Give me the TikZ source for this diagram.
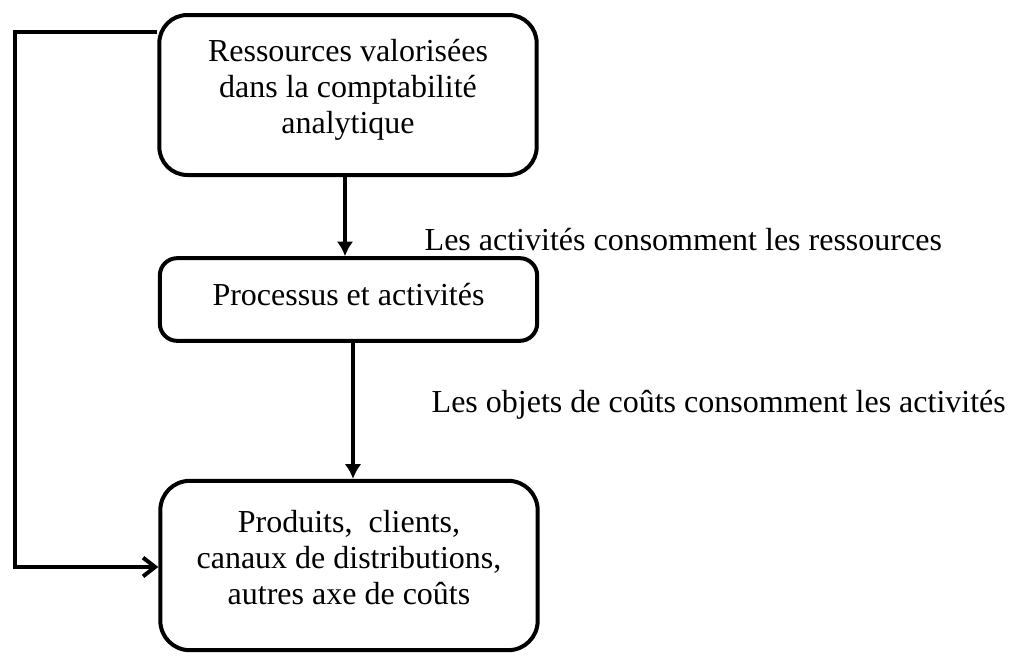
\documentclass[tikz,border=0pt]{standalone}
\usepackage{fontspec}
\setmainfont{Liberation Serif}
\usetikzlibrary{arrows.meta}
\tikzset{
  boite/.style={draw, line width=3pt, minimum width=283pt},
  texte/.style={align=center, font=\fontsize{24}{27}\selectfont},
}
\begin{document}
\begin{tikzpicture}[x=0.75pt, y=-0.75pt, >={Latex[length=11pt,width=12.5pt]}]
    \useasboundingbox (0,0) rectangle (1010,664);
    % les trois blocs
    \node[boite, minimum height=120pt, rounded corners=21pt] (res) at (348,95) {};
    \node[texte] (res-t) at (348,90) {Ressources valoris\'ees\\dans la comptabilit\'e\\analytique};
    \node[boite, minimum height=62pt, rounded corners=13pt] (proc) at (348.5,299.5) {};
    \node[texte] (proc-t) at (348.5,295) {Processus et activit\'es};
    \node[boite, minimum height=127pt, rounded corners=22pt] (prod) at (349,565.5) {};
    \node[texte] (prod-t) at (349,558) {Produits,\ \ clients,\\canaux de distributions,\\autres axe de co\^uts};

    % fleches
    \draw[->, line width=3pt] (res.south -| 345,0) -- (proc.north -| 345,0);
    \draw[->, line width=3pt] (proc.south -| 353,0) -- (prod.north -| 353,0);
    \node[texte, anchor=base west] (lab1) at (420,250) {Les activit\'es consomment les ressources};
    \node[texte, anchor=base west] (lab2) at (427,412) {Les objets de co\^uts consomment les activit\'es};

    % retour a gauche
    \coordinate (c1) at (15,32);
    \coordinate (c2) at (15,567);
    \draw[-{Straight Barb[length=9pt,width=14pt]}, line width=3pt, line join=miter]
        (res.west |- c1) -- (c1) -- (c2) -- (prod.west |- c2);
\end{tikzpicture}
\end{document}
